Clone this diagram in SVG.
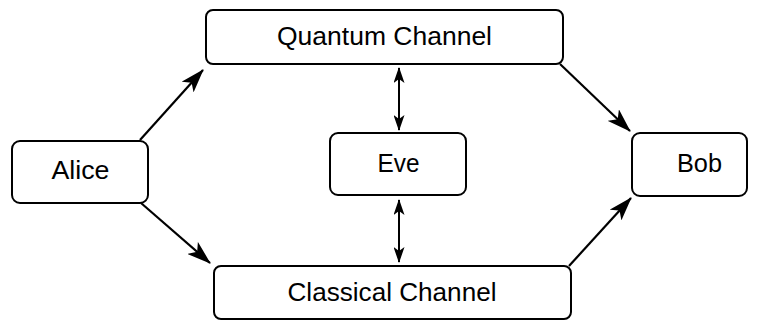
<svg xmlns="http://www.w3.org/2000/svg" width="759" height="320" viewBox="0 0 759 320">
  <defs>
    <style>
      .box { fill: #ffffff; stroke: #000000; stroke-width: 2; }
      .label { font-family: "Liberation Sans", Arial, Helvetica, sans-serif; font-size: 25px; fill: #000000; text-anchor: middle; }
      .link { stroke: #000000; stroke-width: 2.2; fill: none; }
      .flow { marker-end: url(#head); }
      .tap { stroke-width: 2; marker-start: url(#smallhead); marker-end: url(#smallhead); }
    </style>
    <marker id="head" markerUnits="userSpaceOnUse" viewBox="0 0 24 16" refX="23" refY="8" markerWidth="24" markerHeight="16" orient="auto">
      <path d="M0,0 L24,8 L0,16 L6,8 Z" fill="#000000"/>
    </marker>
    <marker id="smallhead" markerUnits="userSpaceOnUse" viewBox="0 0 16 11" refX="15" refY="5.5" markerWidth="16" markerHeight="11" orient="auto-start-reverse">
      <path d="M0,0 L16,5.5 L0,11 L4,5.5 Z" fill="#000000"/>
    </marker>
  </defs>

  <rect width="759" height="320" fill="#ffffff"/>

  <!-- connectors -->
  <g id="connectors">
    <line class="link flow" x1="140" y1="140" x2="203" y2="70"/>
    <line class="link flow" x1="141" y1="203" x2="210" y2="263"/>
    <line class="link flow" x1="560" y1="64" x2="630" y2="131"/>
    <line class="link flow" x1="569" y1="266" x2="631" y2="198"/>
    <line class="link tap" x1="399" y1="68" x2="399" y2="130"/>
    <line class="link tap" x1="399" y1="200" x2="399" y2="262"/>
  </g>

  <!-- nodes -->
  <g id="quantum-channel">
    <rect class="box" x="206" y="10" width="357" height="54" rx="7"/>
    <text class="label" x="384.5" y="45" textLength="215" lengthAdjust="spacingAndGlyphs">Quantum Channel</text>
  </g>
  <g id="alice">
    <rect class="box" x="12" y="141" width="136" height="62" rx="8"/>
    <text class="label" x="80.5" y="179" textLength="58" lengthAdjust="spacingAndGlyphs">Alice</text>
  </g>
  <g id="eve">
    <rect class="box" x="330" y="133" width="136" height="62" rx="8"/>
    <text class="label" x="398.5" y="172" textLength="42" lengthAdjust="spacingAndGlyphs">Eve</text>
  </g>
  <g id="bob">
    <rect class="box" x="632" y="133" width="115" height="63" rx="8"/>
    <text class="label" x="699.5" y="172" textLength="45" lengthAdjust="spacingAndGlyphs">Bob</text>
  </g>
  <g id="classical-channel">
    <rect class="box" x="214" y="266" width="357" height="53" rx="7"/>
    <text class="label" x="392" y="301" textLength="209" lengthAdjust="spacingAndGlyphs">Classical Channel</text>
  </g>
</svg>
